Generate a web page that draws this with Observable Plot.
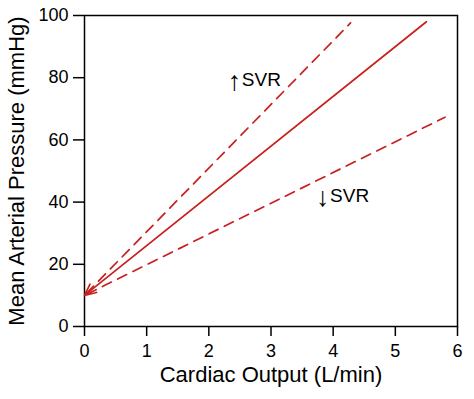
<!DOCTYPE html>
<html>
<head>
<meta charset="utf-8">
<script src="https://cdn.jsdelivr.net/npm/d3@7"></script>
<script src="https://cdn.jsdelivr.net/npm/@observablehq/plot@0.6"></script>
<style>
  html, body { margin: 0; padding: 0; background: #fff; }
  #chart svg { display: block; font-family: "Liberation Sans", Arial, sans-serif; color: #000; }
</style>
</head>
<body>
<div id="chart"></div>
<script>
// Normal curve (solid, with arrowhead at the origin intercept)
const normalX = [0, 5.5];
const normalY = [10, 98];
// Increased SVR (dashed, steeper)
const highX = [0, 4.28];
const highY = [10, 97.6];
// Decreased SVR (dashed, flatter)
const lowX = [0, 5.8];
const lowY = [10, 67.3];

const xTicks = [0, 1, 2, 3, 4, 5, 6];
const yTicks = [0, 20, 40, 60, 80, 100];

const annotArrows = ["↑", "↓"];
const annotText = ["SVR", "SVR"];
const annotX = [2.53, 3.95];
const annotY = [79.2, 41.9];

const xLabel = "Cardiac Output (L/min)";
const yLabel = "Mean Arterial Pressure (mmHg)";

const red = "#c8201e";
const toPts = (xs, ys) => xs.map((x, i) => ({x, y: ys[i]}));

const chart = Plot.plot({
  width: 474,
  height: 399,
  marginLeft: 84,
  marginRight: 17,
  marginTop: 15,
  marginBottom: 73,
  style: {fontSize: "18px", fontFamily: "'Liberation Sans', Arial, sans-serif", color: "black"},
  x: {domain: [0, 6]},
  y: {domain: [0, 100]},
  marks: [
    Plot.axisX({ticks: xTicks, tickSize: 10, tickPadding: 8, label: null, strokeWidth: 1.5, fontSize: 18, tickFormat: d => String(d)}),
    Plot.axisY({ticks: yTicks, tickSize: 11, tickPadding: 5, label: null, strokeWidth: 1.5, fontSize: 18, tickFormat: d => String(d)}),
    Plot.frame({stroke: "black", strokeWidth: 1.5}),
    Plot.line(toPts(highX, highY), {x: "x", y: "y", stroke: red, strokeWidth: 1.7, strokeDasharray: "10,7", strokeDashoffset: 14}),
    Plot.line(toPts(lowX, lowY), {x: "x", y: "y", stroke: red, strokeWidth: 1.7, strokeDasharray: "10,7", strokeDashoffset: 14}),
    Plot.arrow([0], {
      x1: () => normalX[1], y1: () => normalY[1],
      x2: () => normalX[0], y2: () => normalY[0],
      stroke: red, strokeWidth: 1.7, headLength: 11, headAngle: 50
    }),
    Plot.text(annotText, {x: (d, i) => annotX[i], y: (d, i) => annotY[i], text: d => d, fontSize: 19, fill: "black", textAnchor: "start"}),
    Plot.text(annotArrows, {x: (d, i) => annotX[i], y: (d, i) => annotY[i], text: d => d, fontSize: 27, dx: -0.5, dy: 1, fill: "black", textAnchor: "end"}),
    Plot.text([xLabel], {frameAnchor: "bottom", dy: 55, text: d => d, fontSize: 22, fill: "black", textAnchor: "middle"}),
    Plot.text([yLabel], {frameAnchor: "left", dx: -68, rotate: -90, text: d => d, fontSize: 22, fill: "black", textAnchor: "middle"})
  ]
});
document.getElementById("chart").appendChild(chart);
</script>
</body>
</html>
